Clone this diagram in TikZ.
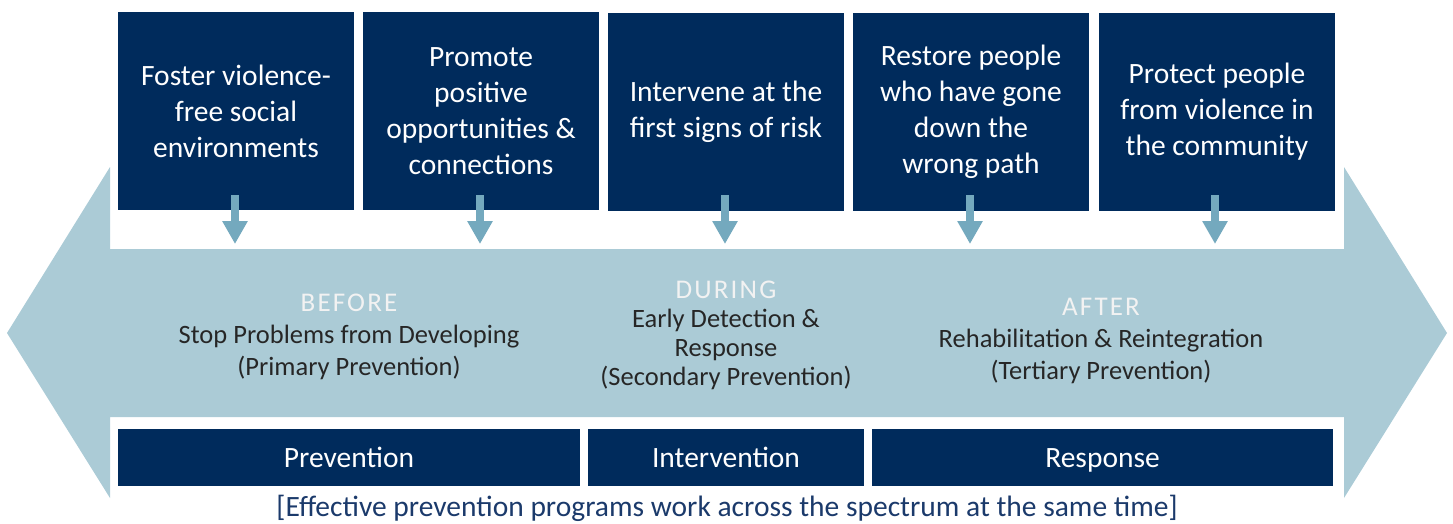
\documentclass[tikz,border=0pt]{standalone}
\usepackage{fontspec}
\setmainfont{Carlito}
\usepackage{tikz}
\usetikzlibrary{calc}
\usetikzlibrary{arrows.meta}

\definecolor{navy}{HTML}{002B5C}
\definecolor{band}{HTML}{ABCBD6}
\definecolor{drop}{HTML}{74A9BE}
\definecolor{ink}{HTML}{262626}
\definecolor{note}{HTML}{1B3A6B}

\newcommand{\headword}[1]{{\color{white!95!black}\fontsize{27}{30}\selectfont\addfontfeatures{LetterSpace=8}#1}}

\tikzset{
	topbox/.style={fill=navy,text=white,minimum width=236pt,minimum height=198pt,align=center,font=\fontsize{29.5}{36}\selectfont},
	lowbox/.style={fill=navy,text=white,minimum height=57pt,text height=20pt,text depth=1pt,font=\fontsize{29.5}{30}\selectfont},
	phase/.style={text=ink,align=center,font=\fontsize{26.5}{32}\selectfont},
	dropline/.style={draw=drop,line width=8pt,-{Triangle[width=24pt,length=23pt]}}
}

\begin{document}
\begin{tikzpicture}[x=1pt,y=1pt]
		\useasboundingbox (0,0) rectangle (1453,-523);
		\fill[band] (7,-333) -- (110,-167) -- (110,-249) -- (1344,-249) -- (1344,-167) -- (1447,-333)
			-- (1344,-498) -- (1344,-417) -- (110,-417) -- (110,-498) -- cycle;
		
		\node[topbox](F1) at (236,-111) {Foster violence-\\free social\\environments};
		\node[topbox](F2) at (481,-111) {Promote\\positive\\opportunities \&\\connections};
		\node[topbox](F3) at (726,-112) {Intervene at the\\first signs of risk};
		\node[topbox](F4) at (971,-112) {Restore people\\who have gone\\down the\\wrong path};
		\node[topbox](F5) at (1217,-112) {Protect people\\from violence in\\the community};
		
		\foreach \i/\x in {1/235,2/480,3/725,4/970,5/1215} {
			\coordinate(T\i) at (\x,-244);
			\draw[dropline] (\x,-195) -- (T\i);
		}
		
		\node[phase](BEFORE) at (349,-337) {\headword{BEFORE}\\Stop Problems from Developing\\(Primary Prevention)};
		\node[phase,font=\fontsize{26.5}{29}\selectfont](DURING) at (726,-335) {\headword{DURING}\\Early Detection \&\\Response\\(Secondary Prevention)};
		\node[phase](AFTER) at (1101,-341) {\headword{AFTER}\\Rehabilitation \& Reintegration\\(Tertiary Prevention)};
		
		\node[lowbox,minimum width=462pt](PREV) at (349,-457.5) {Prevention};
		\node[lowbox,minimum width=276pt](INTV) at (726,-457.5) {Intervention};
		\node[lowbox,minimum width=461pt](RESP) at (1102.5,-457.5) {Response};
		
		\node[text=note,font=\fontsize{29.5}{30}\selectfont](NOTE) at (727,-508) {[Effective prevention programs work across the spectrum at the same time]};
	\end{tikzpicture}
\end{document}
